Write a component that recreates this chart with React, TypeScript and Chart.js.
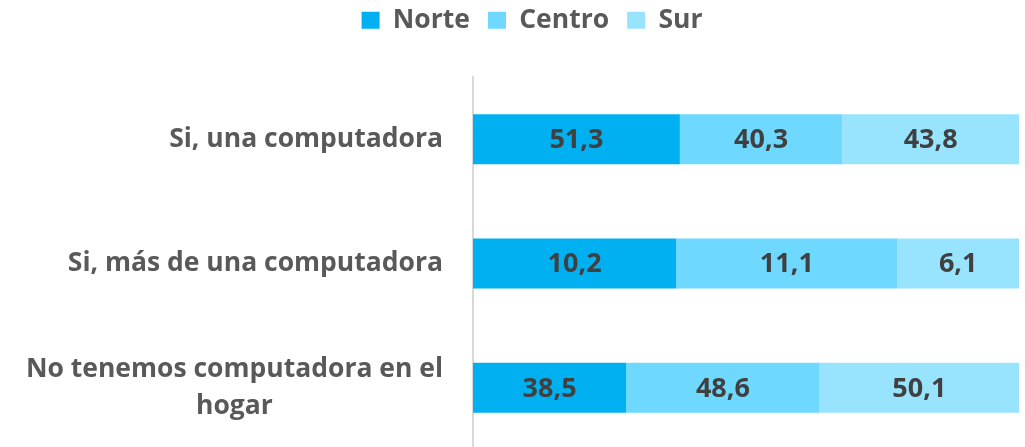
import { useEffect, useRef } from 'react';
import { Chart, registerables } from 'chart.js';

Chart.register(...registerables);

const categories: string[][] = [
  ['Si, una computadora'],
  ['Si, más de una computadora'],
  ['No tenemos computadora en el', 'hogar'],
];
const seriesNames = ['Norte', 'Centro', 'Sur'];
const norte = [51.3, 10.2, 38.5];
const centro = [40.3, 11.1, 48.6];
const sur = [43.8, 6.1, 50.1];
const seriesColors = ['#00B0F0', '#6FD8FF', '#98E4FF'];

const FONT = '"Open Sans", sans-serif';

const fmt = (v: number) => v.toFixed(1).replace('.', ',');

export default function App() {
  const ref = useRef<HTMLCanvasElement | null>(null);

  useEffect(() => {
    document.documentElement.style.overflow = 'hidden';
    document.body.style.overflow = 'hidden';
    const canvas = ref.current;
    if (!canvas) return;

    const raw = [norte, centro, sur];
    const totals = categories.map((_, i) => raw.reduce((s, arr) => s + arr[i], 0));

    const dataLabels = {
      id: 'dataLabels',
      afterDatasetsDraw(chart: any) {
        const ctx = chart.ctx;
        ctx.save();
        ctx.font = `bold 27px ${FONT}`;
        ctx.fillStyle = '#404040';
        ctx.textAlign = 'center';
        ctx.textBaseline = 'middle';
        chart.data.datasets.forEach((ds: any, di: number) => {
          const meta = chart.getDatasetMeta(di);
          meta.data.forEach((bar: any, i: number) => {
            const x = (bar.x + bar.base) / 2;
            ctx.fillText(fmt(ds.rawValues[i]), x, bar.y + 1);
          });
        });
        ctx.restore();
      },
    };

    const catLabels = {
      id: 'catLabels',
      afterDraw(chart: any) {
        const ctx = chart.ctx;
        const y = chart.scales.y;
        ctx.save();
        ctx.font = `bold 26.5px ${FONT}`;
        ctx.fillStyle = '#595959';
        ctx.textAlign = 'center';
        ctx.textBaseline = 'middle';
        const right = 443;
        const lineH = 37;
        categories.forEach((lines, i) => {
          const cy = y.getPixelForValue(i);
          const w = Math.max(...lines.map((l) => ctx.measureText(l).width));
          const cx = right - w / 2;
          lines.forEach((l, j) => {
            ctx.fillText(l, cx, cy + (j - (lines.length - 1) / 2) * lineH);
          });
        });
        ctx.restore();
      },
    };

    const legendHeight = {
      id: 'legendHeight',
      beforeLayout(chart: any) {
        const lg = chart.legend;
        if (lg && !lg._patched) {
          const f = lg.fit;
          lg.fit = function () {
            f.call(this);
            this.height = 88;
          };
          lg._patched = true;
        }
      },
    };

    const chart = new Chart(canvas, {
      type: 'bar',
      data: {
        labels: categories.map((c) => c.join(' ')),
        datasets: raw.map((arr, k) => ({
          label: seriesNames[k],
          data: arr.map((v, i) => (v / totals[i]) * 100),
          rawValues: arr,
          backgroundColor: seriesColors[k],
          borderWidth: 0,
          categoryPercentage: 1,
          barPercentage: 0.402,
        })) as any,
      },
      options: {
        indexAxis: 'y',
        animation: false,
        responsive: false,
        maintainAspectRatio: false,
        layout: { padding: { top: -11, right: 46, bottom: 1, left: 45 } },
        scales: {
          x: { stacked: true, min: 0, max: 100, display: false },
          y: {
            stacked: true,
            display: true,
            ticks: { display: false },
            grid: { display: false },
            border: { display: true, color: '#D9D9D9', width: 2 },
            afterFit: (s: any) => {
              s.width = 428;
            },
          },
        },
        plugins: {
          legend: {
            display: true,
            position: 'top',
            labels: {
              boxWidth: 18,
              boxHeight: 17,
              padding: 18,
              color: '#595959',
              font: { family: FONT, size: 26.5, weight: 'bold' },
            },
          },
          tooltip: { enabled: false },
        },
      },
      plugins: [dataLabels, catLabels, legendHeight],
    });

    return () => chart.destroy();
  }, []);

  return (
    <div style={{ position: 'fixed', left: 0, top: 0, width: 1065, height: 451 }}>
      <canvas ref={ref} width={1065} height={451} style={{ width: 1065, height: 451 }} />
    </div>
  );
}
